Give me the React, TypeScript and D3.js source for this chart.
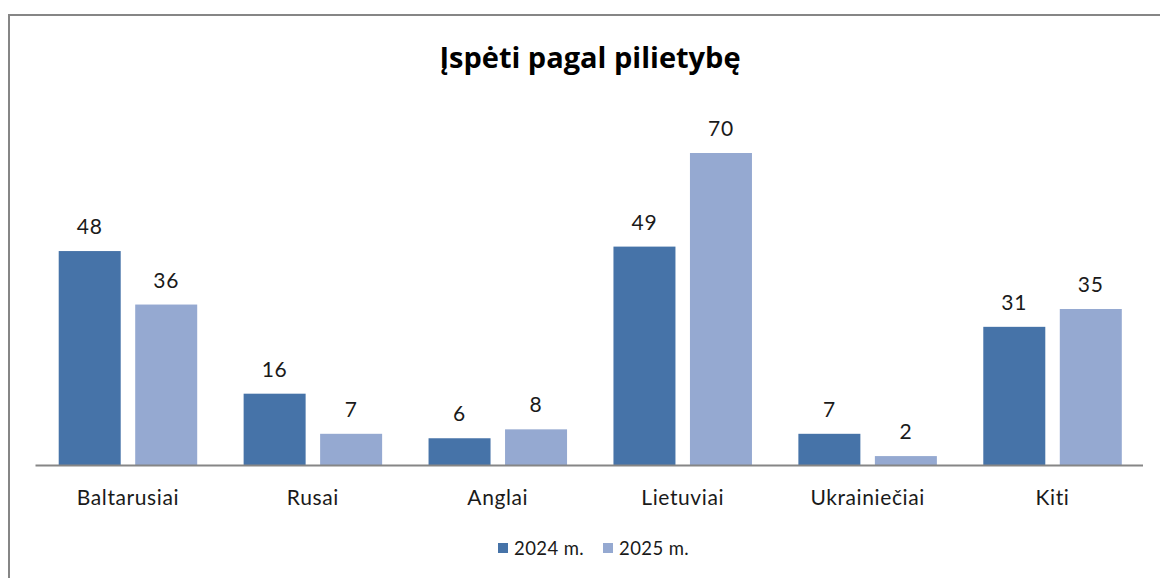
import React from "react";
import * as d3 from "d3";

const categories = ["Baltarusiai", "Rusai", "Anglai", "Lietuviai", "Ukrainiečiai", "Kiti"];
const seriesNames = ["2024 m.", "2025 m."];
const values2024 = [48, 16, 6, 49, 7, 31];
const values2025 = [36, 7, 8, 70, 2, 35];
const colors = ["#4673A8", "#95A9D1"];
const title = "Įspėti pagal pilietybę";

const W = 1160;
const H = 578;
const FONT = "Lato, 'Open Sans', sans-serif";

export default function App() {
  const plotLeft = 35.5;
  const plotRight = 1145;
  const baseY = 465;
  const x0 = d3.scaleBand<string>().domain(categories).range([plotLeft, plotRight]).paddingInner(0).paddingOuter(0);
  const bw = x0.bandwidth();
  const barW = 62;
  const gap = 14.5;
  const side = (bw - 2 * barW - gap) / 2;
  const y = d3.scaleLinear().domain([0, 70]).range([baseY, baseY - 312]);
  const series = [values2024, values2025];

  return (
    <svg width={W} height={H} style={{ position: "absolute", left: 0, top: 0 }} fontFamily={FONT}>
      <rect x={0} y={0} width={W} height={H} fill="#fff" />
      <rect x={9} y={15} width={W + 10} height={H + 10} fill="none" stroke="#868686" strokeWidth={2} />
      <text x={590} y={68} textAnchor="middle" fontSize={29} fontWeight={700} fill="#000" fontFamily="'Open Sans', sans-serif">
        {title}
      </text>
      {categories.map((c, i) => {
        const bx = x0(c)!;
        return (
          <g key={c}>
            {series.map((vals, s) => {
              const xx = bx + side + s * (barW + gap);
              const v = vals[i];
              return (
                <g key={s}>
                  <rect x={xx} y={y(v)} width={barW} height={baseY - y(v)} fill={colors[s]} />
                  <text x={xx + barW / 2} y={y(v) - 17} textAnchor="middle" fontSize={21} letterSpacing={0.8} fill="#1a1a1a">
                    {v}
                  </text>
                </g>
              );
            })}
            <text x={bx + bw / 2} y={505} textAnchor="middle" fontSize={21} letterSpacing={0.6} fill="#1a1a1a">
              {c}
            </text>
          </g>
        );
      })}
      <line x1={plotLeft} x2={plotRight - 2} y1={baseY + 0.5} y2={baseY + 0.5} stroke="#868686" strokeWidth={2} />
      {seriesNames.map((n, s) => {
        const lx = 498 + s * 105;
        return (
          <g key={n}>
            <rect x={lx} y={543} width={10} height={10} fill={colors[s]} />
            <text x={lx + 16} y={555} fontSize={18.5} letterSpacing={0.4} fill="#1a1a1a">
              {n}
            </text>
          </g>
        );
      })}
    </svg>
  );
}
